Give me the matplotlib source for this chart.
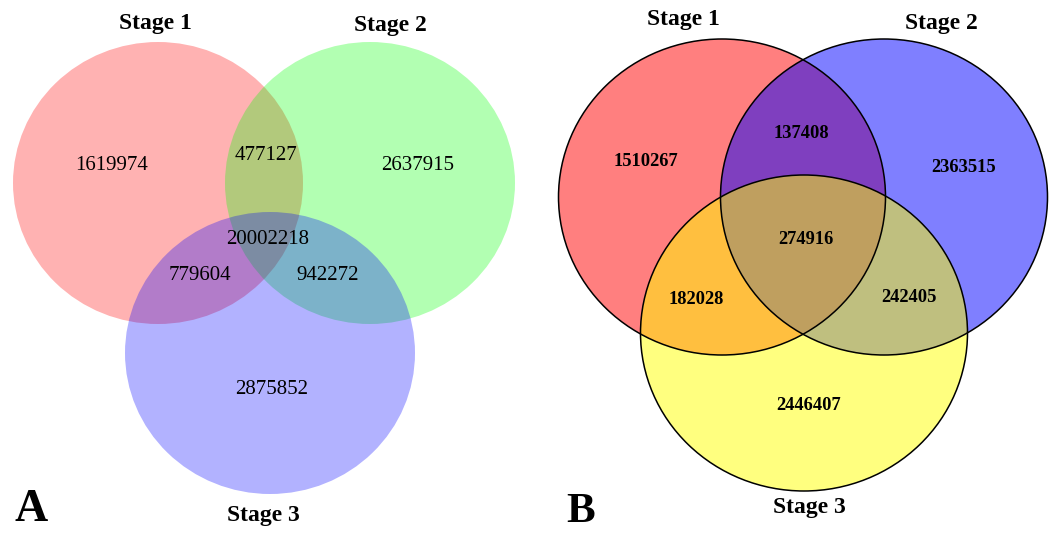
import matplotlib.pyplot as plt
from matplotlib.patches import Ellipse

plt.rcParams['font.family'] = ['Liberation Serif', 'DejaVu Serif']

stages = ["Stage 1", "Stage 2", "Stage 3"]

# region counts: only 1, only 2, 1&2, all three, 1&3, 2&3, only 3
counts_a = [1619974, 2637915, 477127, 20002218, 779604, 942272, 2875852]
counts_b = [1510267, 2363515, 137408, 274916, 182028, 242405, 2446407]

colors_a = ["#ff0000", "#00ff00", "#0000ff"]
colors_b = ["#ff0000", "#0000ff", "#ffff00"]

fig = plt.figure(figsize=(10.52, 5.44), dpi=100)
ax = fig.add_axes([0, 0, 1, 1])
ax.set_xlim(0, 1052)
ax.set_ylim(544, 0)
ax.axis("off")

# panel A: soft circles, no outline
circles_a = [(158, 183), (370, 183), (270, 353)]
for (cx, cy), c in zip(circles_a, colors_a):
    ax.add_patch(Ellipse((cx, cy), 290, 282, facecolor=c, alpha=0.3, lw=0))

pos_a = [(112, 165), (418, 166), (266, 156), (268, 240), (200, 276), (328, 276), (272, 389)]
for (x, y), n in zip(pos_a, counts_a):
    ax.text(x, y, str(n), ha="center", va="center", fontsize=15)

for (x, y), s in zip([(155, 24), (390, 26), (263, 515)], stages):
    ax.text(x, y, s, ha="center", va="center", fontsize=17, fontweight="bold")
ax.text(31, 510, "A", ha="center", va="center", fontsize=33, fontweight="bold")

# panel B: outlined circles
circles_b = [(722, 197), (884, 197), (804, 333)]
for (cx, cy), c in zip(circles_b, colors_b):
    ax.add_patch(Ellipse((cx, cy), 327, 316, facecolor=c, alpha=0.5, lw=0))
for cx, cy in circles_b:
    ax.add_patch(Ellipse((cx, cy), 327, 316, facecolor="none", edgecolor="black", lw=1.1))

pos_b = [(646, 162), (964, 168), (801, 133), (806, 240), (696, 299), (909, 298), (809, 406)]
for (x, y), n in zip(pos_b, counts_b):
    ax.text(x, y, str(n), ha="center", va="center", fontsize=13.3, fontweight="bold")

for (x, y), s in zip([(683, 20), (941, 23), (809, 508)], stages):
    ax.text(x, y, s, ha="center", va="center", fontsize=17, fontweight="bold")
ax.text(581, 512, "B", ha="center", va="center", fontsize=31, fontweight="bold")

fig.savefig("out.png", dpi=100)
